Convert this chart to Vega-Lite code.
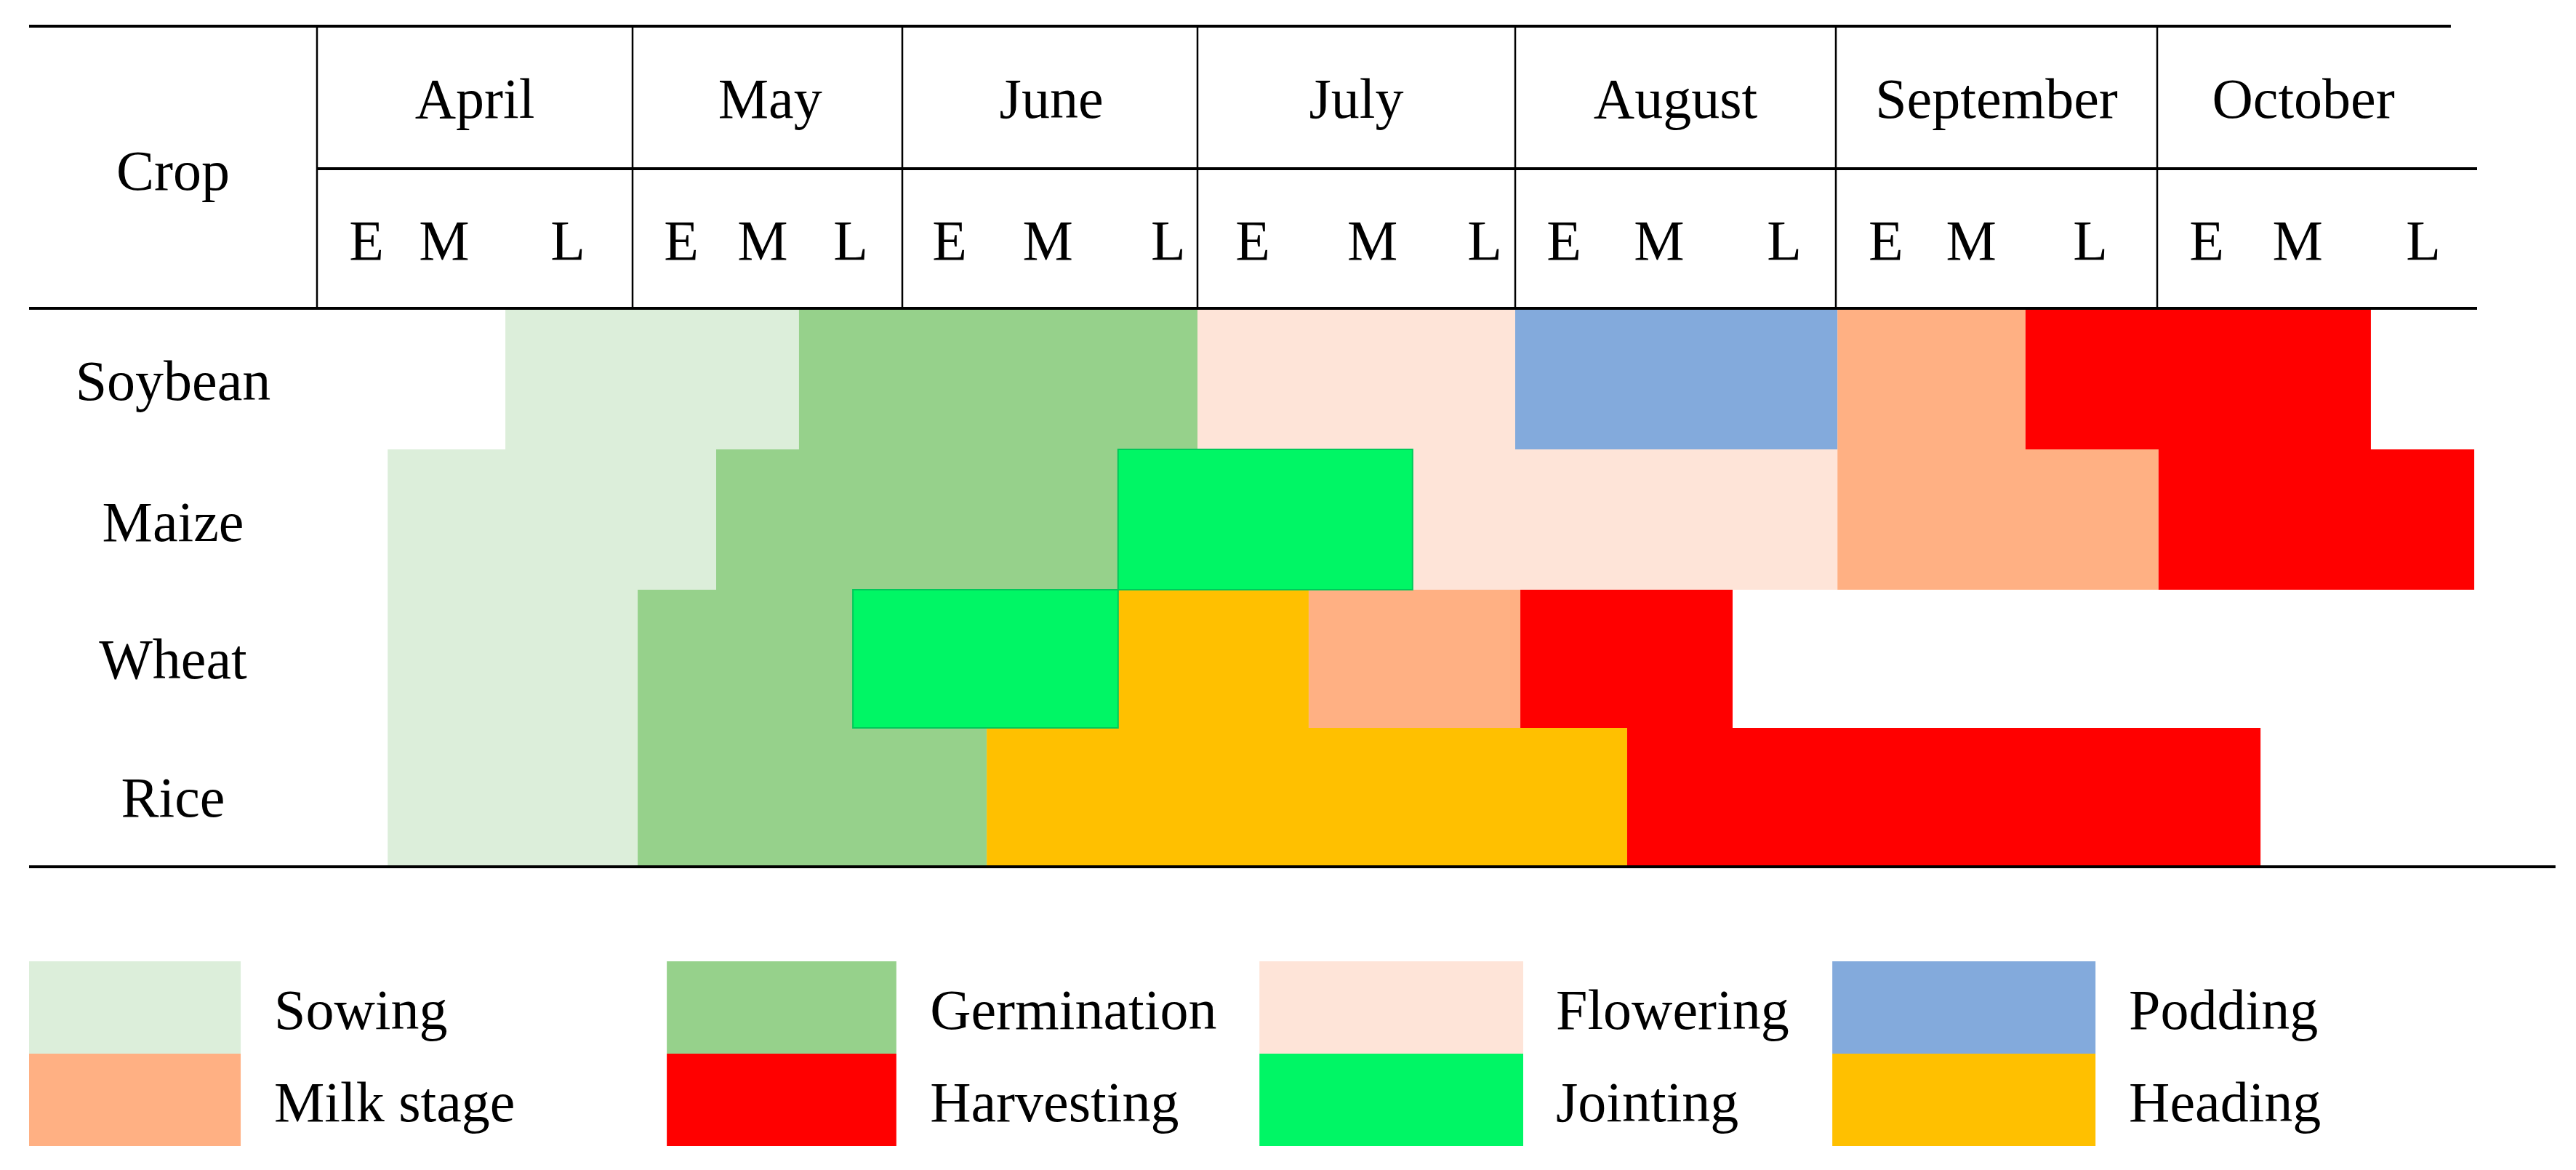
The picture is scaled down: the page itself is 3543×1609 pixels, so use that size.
{
  "$schema": "https://vega.github.io/schema/vega-lite/v6.json",
  "width": 3543,
  "height": 1609,
  "autosize": {"type": "fit", "contains": "padding"},
  "padding": 0,
  "background": "white",
  "config": {
    "view": {"stroke": null},
    "text": {"font": "Liberation Serif", "fontSize": 78, "color": "black"}
  },
  "datasets": {
    "bars": [
      {"crop": "Soybean", "stage": "Sowing", "start": 4.597, "end": 5.617},
      {"crop": "Soybean", "stage": "Germination", "start": 5.617, "end": 7.0},
      {"crop": "Soybean", "stage": "Flowering", "start": 7.0, "end": 8.0},
      {"crop": "Soybean", "stage": "Podding", "start": 8.0, "end": 9.005},
      {"crop": "Soybean", "stage": "Milk stage", "start": 9.005, "end": 9.59},
      {"crop": "Soybean", "stage": "Harvesting", "start": 9.59, "end": 10.668},
      {"crop": "Maize", "stage": "Sowing", "start": 4.224, "end": 5.31},
      {"crop": "Maize", "stage": "Germination", "start": 5.31, "end": 6.731},
      {"crop": "Maize", "stage": "Jointing", "start": 6.731, "end": 7.677},
      {"crop": "Maize", "stage": "Flowering", "start": 7.677, "end": 9.005},
      {"crop": "Maize", "stage": "Milk stage", "start": 9.005, "end": 10.004},
      {"crop": "Maize", "stage": "Harvesting", "start": 10.004, "end": 10.991},
      {"crop": "Wheat", "stage": "Sowing", "start": 4.224, "end": 5.019},
      {"crop": "Wheat", "stage": "Germination", "start": 5.019, "end": 5.817},
      {"crop": "Wheat", "stage": "Jointing", "start": 5.817, "end": 6.731},
      {"crop": "Wheat", "stage": "Heading", "start": 6.731, "end": 7.35},
      {"crop": "Wheat", "stage": "Milk stage", "start": 7.35, "end": 8.016},
      {"crop": "Wheat", "stage": "Harvesting", "start": 8.016, "end": 8.678},
      {"crop": "Rice", "stage": "Sowing", "start": 4.224, "end": 5.019},
      {"crop": "Rice", "stage": "Germination", "start": 5.019, "end": 6.286},
      {"crop": "Rice", "stage": "Heading", "start": 6.286, "end": 8.349},
      {"crop": "Rice", "stage": "Harvesting", "start": 8.349, "end": 10.323}
    ],
    "legend": [
      {"stage": "Sowing", "x0": 3.0, "x1": 3.735, "tx": 3.851, "y0": 6.681, "y1": 7.346, "ty": 7.168},
      {"stage": "Germination", "x0": 5.127, "x1": 5.978, "tx": 6.094, "y0": 6.681, "y1": 7.346, "ty": 7.168},
      {"stage": "Flowering", "x0": 7.195, "x1": 8.025, "tx": 8.127, "y0": 6.681, "y1": 7.346, "ty": 7.168},
      {"stage": "Podding", "x0": 8.989, "x1": 9.808, "tx": 9.912, "y0": 6.681, "y1": 7.346, "ty": 7.168},
      {"stage": "Milk stage", "x0": 3.0, "x1": 3.735, "tx": 3.851, "y0": 7.346, "y1": 8.01, "ty": 7.832},
      {"stage": "Harvesting", "x0": 5.127, "x1": 5.978, "tx": 6.094, "y0": 7.346, "y1": 8.01, "ty": 7.832},
      {"stage": "Jointing", "x0": 7.195, "x1": 8.025, "tx": 8.127, "y0": 7.346, "y1": 8.01, "ty": 7.832},
      {"stage": "Heading", "x0": 8.989, "x1": 9.808, "tx": 9.912, "y0": 7.346, "y1": 8.01, "ty": 7.832}
    ],
    "hrules": [
      {"x0": 3.0, "x1": 10.918, "y": 0},
      {"x0": 4.0, "x1": 11.0, "y": 1},
      {"x0": 3.0, "x1": 11.0, "y": 2},
      {"x0": 3.0, "x1": 11.245, "y": 6}
    ],
    "vrules": [
      {"x": 4, "y0": 0, "y1": 2},
      {"x": 5, "y0": 0, "y1": 2},
      {"x": 6, "y0": 0, "y1": 2},
      {"x": 7, "y0": 0, "y1": 2},
      {"x": 8, "y0": 0, "y1": 2},
      {"x": 9, "y0": 0, "y1": 2},
      {"x": 10, "y0": 0, "y1": 2}
    ],
    "months": [
      {"month": "April", "mid": 4.5},
      {"month": "May", "mid": 5.51},
      {"month": "June", "mid": 6.505},
      {"month": "July", "mid": 7.5},
      {"month": "August", "mid": 8.5},
      {"month": "September", "mid": 9.5},
      {"month": "October", "mid": 10.457}
    ],
    "dekads": [
      {"d": "E", "pos": 4.157}, {"d": "M", "pos": 4.403}, {"d": "L", "pos": 4.795},
      {"d": "E", "pos": 5.181}, {"d": "M", "pos": 5.482}, {"d": "L", "pos": 5.809},
      {"d": "E", "pos": 6.16}, {"d": "M", "pos": 6.493}, {"d": "L", "pos": 6.901},
      {"d": "E", "pos": 7.174}, {"d": "M", "pos": 7.551}, {"d": "L", "pos": 7.904},
      {"d": "E", "pos": 8.152}, {"d": "M", "pos": 8.449}, {"d": "L", "pos": 8.839},
      {"d": "E", "pos": 9.156}, {"d": "M", "pos": 9.421}, {"d": "L", "pos": 9.792},
      {"d": "E", "pos": 10.155}, {"d": "M", "pos": 10.439}, {"d": "L", "pos": 10.832}
    ],
    "crops": [
      {"label": "Crop", "ty": 1.151},
      {"label": "Soybean", "ty": 2.649},
      {"label": "Maize", "ty": 3.653},
      {"label": "Wheat", "ty": 4.642},
      {"label": "Rice", "ty": 5.639}
    ]
  },
  "layer": [
    {
      "data": {"name": "bars"},
      "transform": [
        {"calculate": "indexof(['Soybean','Maize','Wheat','Rice'], datum.crop) + 2", "as": "r0"},
        {"calculate": "datum.r0 + 1", "as": "r1"}
      ],
      "mark": {"type": "rect"},
      "encoding": {
        "x": {"field": "start", "type": "quantitative", "axis": null, "scale": {"domain": [3,4,5,6,7,8,9,10,11], "range": [40,436,870,1241,1647,2084,2525,2967,3407], "nice": false, "zero": false}},
        "x2": {"field": "end"},
        "y": {"field": "r0", "type": "quantitative", "axis": null, "scale": {"domain": [0,1,2,3,4,5,6], "range": [36,232,424,618,811,1001,1192], "nice": false, "zero": false}},
        "y2": {"field": "r1"},
        "color": {
          "field": "stage", "type": "nominal", "legend": null,
          "scale": {
            "domain": ["Sowing", "Germination", "Flowering", "Podding", "Milk stage", "Harvesting", "Jointing", "Heading"],
            "range": ["#DCEEDA", "#96D18B", "#FEE4D8", "#83AADC", "#FFB083", "#FF0000", "#00F665", "#FFC000"]
          }
        }
      }
    },
    {
      "data": {"name": "bars"},
      "transform": [
        {"filter": "datum.stage === 'Jointing'"},
        {"calculate": "indexof(['Soybean','Maize','Wheat','Rice'], datum.crop) + 2", "as": "r0"},
        {"calculate": "datum.r0 + 1", "as": "r1"}
      ],
      "mark": {"type": "rect", "filled": false, "stroke": "#00C95A", "strokeWidth": 2},
      "encoding": {
        "x": {"field": "start", "type": "quantitative", "axis": null, "scale": {"domain": [3,4,5,6,7,8,9,10,11], "range": [40,436,870,1241,1647,2084,2525,2967,3407], "nice": false, "zero": false}},
        "x2": {"field": "end"},
        "y": {"field": "r0", "type": "quantitative", "axis": null, "scale": {"domain": [0,1,2,3,4,5,6], "range": [36,232,424,618,811,1001,1192], "nice": false, "zero": false}},
        "y2": {"field": "r1"}
      }
    },
    {
      "data": {"name": "legend"},
      "mark": {"type": "rect"},
      "encoding": {
        "x": {"field": "x0", "type": "quantitative", "axis": null, "scale": {"domain": [3,4,5,6,7,8,9,10,11], "range": [40,436,870,1241,1647,2084,2525,2967,3407], "nice": false, "zero": false}},
        "x2": {"field": "x1"},
        "y": {"field": "y0", "type": "quantitative", "axis": null, "scale": {"domain": [0,1,2,3,4,5,6], "range": [36,232,424,618,811,1001,1192], "nice": false, "zero": false}},
        "y2": {"field": "y1"},
        "color": {
          "field": "stage", "type": "nominal", "legend": null,
          "scale": {
            "domain": ["Sowing", "Germination", "Flowering", "Podding", "Milk stage", "Harvesting", "Jointing", "Heading"],
            "range": ["#DCEEDA", "#96D18B", "#FEE4D8", "#83AADC", "#FFB083", "#FF0000", "#00F665", "#FFC000"]
          }
        }
      }
    },
    {
      "data": {"name": "legend"},
      "mark": {"type": "text", "align": "left", "baseline": "alphabetic"},
      "encoding": {
        "x": {"field": "tx", "type": "quantitative", "axis": null, "scale": {"domain": [3,4,5,6,7,8,9,10,11], "range": [40,436,870,1241,1647,2084,2525,2967,3407], "nice": false, "zero": false}},
        "y": {"field": "ty", "type": "quantitative", "axis": null, "scale": {"domain": [0,1,2,3,4,5,6], "range": [36,232,424,618,811,1001,1192], "nice": false, "zero": false}},
        "text": {"field": "stage"}
      }
    },
    {
      "data": {"name": "hrules"},
      "mark": {"type": "rule", "color": "black", "strokeWidth": 4},
      "encoding": {
        "x": {"field": "x0", "type": "quantitative", "axis": null, "scale": {"domain": [3,4,5,6,7,8,9,10,11], "range": [40,436,870,1241,1647,2084,2525,2967,3407], "nice": false, "zero": false}},
        "x2": {"field": "x1"},
        "y": {"field": "y", "type": "quantitative", "axis": null, "scale": {"domain": [0,1,2,3,4,5,6], "range": [36,232,424,618,811,1001,1192], "nice": false, "zero": false}}
      }
    },
    {
      "data": {"name": "vrules"},
      "mark": {"type": "rule", "color": "black", "strokeWidth": 2.5},
      "encoding": {
        "x": {"field": "x", "type": "quantitative", "axis": null, "scale": {"domain": [3,4,5,6,7,8,9,10,11], "range": [40,436,870,1241,1647,2084,2525,2967,3407], "nice": false, "zero": false}},
        "y": {"field": "y0", "type": "quantitative", "axis": null, "scale": {"domain": [0,1,2,3,4,5,6], "range": [36,232,424,618,811,1001,1192], "nice": false, "zero": false}},
        "y2": {"field": "y1"}
      }
    },
    {
      "data": {"name": "months"},
      "transform": [{"calculate": "0.643", "as": "ty"}],
      "mark": {"type": "text", "align": "center", "baseline": "alphabetic"},
      "encoding": {
        "x": {"field": "mid", "type": "quantitative", "axis": null, "scale": {"domain": [3,4,5,6,7,8,9,10,11], "range": [40,436,870,1241,1647,2084,2525,2967,3407], "nice": false, "zero": false}},
        "y": {"field": "ty", "type": "quantitative", "axis": null, "scale": {"domain": [0,1,2,3,4,5,6], "range": [36,232,424,618,811,1001,1192], "nice": false, "zero": false}},
        "text": {"field": "month"}
      }
    },
    {
      "data": {"name": "dekads"},
      "transform": [{"calculate": "1.651", "as": "ty"}],
      "mark": {"type": "text", "align": "center", "baseline": "alphabetic"},
      "encoding": {
        "x": {"field": "pos", "type": "quantitative", "axis": null, "scale": {"domain": [3,4,5,6,7,8,9,10,11], "range": [40,436,870,1241,1647,2084,2525,2967,3407], "nice": false, "zero": false}},
        "y": {"field": "ty", "type": "quantitative", "axis": null, "scale": {"domain": [0,1,2,3,4,5,6], "range": [36,232,424,618,811,1001,1192], "nice": false, "zero": false}},
        "text": {"field": "d"}
      }
    },
    {
      "data": {"name": "crops"},
      "transform": [{"calculate": "3.5", "as": "tx"}],
      "mark": {"type": "text", "align": "center", "baseline": "alphabetic"},
      "encoding": {
        "x": {"field": "tx", "type": "quantitative", "axis": null, "scale": {"domain": [3,4,5,6,7,8,9,10,11], "range": [40,436,870,1241,1647,2084,2525,2967,3407], "nice": false, "zero": false}},
        "y": {"field": "ty", "type": "quantitative", "axis": null, "scale": {"domain": [0,1,2,3,4,5,6], "range": [36,232,424,618,811,1001,1192], "nice": false, "zero": false}},
        "text": {"field": "label"}
      }
    }
  ]
}
